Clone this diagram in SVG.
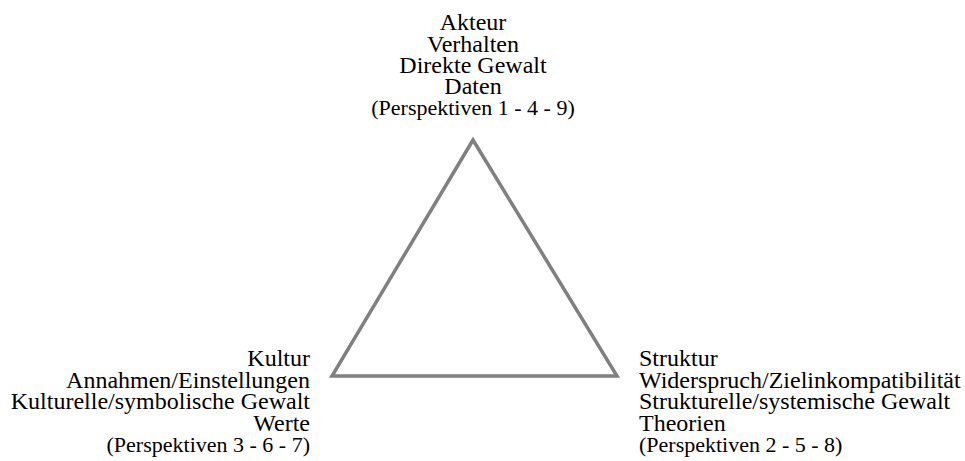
<svg xmlns="http://www.w3.org/2000/svg" width="965" height="461" viewBox="0 0 965 461">
<style>
.t{font-family:"Liberation Serif","Times New Roman",serif;font-size:24px;fill:#000}
.p{font-size:22px}
.tri{fill:none;stroke:#808080;stroke-width:3.5;stroke-linejoin:miter}
</style>
<rect width="965" height="461" fill="#fff"/>
<g id="connectors">
<polygon class="tri" points="473,140 332,376 617,376"/>
</g>
<g id="akteur">
<text class="t" text-anchor="middle" x="473" y="30">Akteur</text>
<text class="t" text-anchor="middle" x="473" y="52">Verhalten</text>
<text class="t" text-anchor="middle" x="473" y="73">Direkte Gewalt</text>
<text class="t" text-anchor="middle" x="473" y="94">Daten</text>
<text class="t p" text-anchor="middle" x="473" y="115">(Perspektiven 1 - 4 - 9)</text>
</g>
<g id="kultur">
<text class="t" text-anchor="end" x="310" y="366">Kultur</text>
<text class="t" text-anchor="end" x="310" y="388">Annahmen/Einstellungen</text>
<text class="t" text-anchor="end" x="310" y="409">Kulturelle/symbolische Gewalt</text>
<text class="t" text-anchor="end" x="310" y="431">Werte</text>
<text class="t p" text-anchor="end" x="310" y="452">(Perspektiven 3 - 6 - 7)</text>
</g>
<g id="struktur">
<text class="t" x="639" y="366">Struktur</text>
<text class="t" x="639" y="388">Widerspruch/Zielinkompatibilität</text>
<text class="t" x="639" y="409">Strukturelle/systemische Gewalt</text>
<text class="t" x="639" y="431">Theorien</text>
<text class="t p" x="639" y="452">(Perspektiven 2 - 5 - 8)</text>
</g>
</svg>
